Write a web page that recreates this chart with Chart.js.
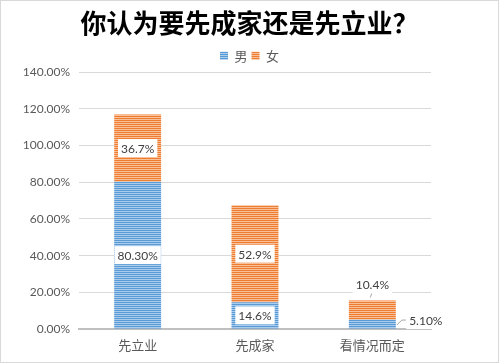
<!DOCTYPE html>
<html>
<head>
<meta charset="utf-8">
<script src="https://cdn.jsdelivr.net/npm/chart.js@4/dist/chart.umd.min.js"></script>
<style>
  html, body { margin: 0; padding: 0; background: #fff; }
  #box { width: 499px; height: 363px; box-sizing: border-box; border: 1px solid #d9d9d9; position: relative; }
</style>
</head>
<body>
<div id="box"><canvas id="barChart"></canvas></div>
<script>
var categories = ["先立业", "先成家", "看情况而定"];
var maleData = [80.3, 14.6, 5.1];
var femaleData = [36.7, 52.9, 10.4];
var maleLabels = ["80.30%", "14.6%", "5.10%"];
var femaleLabels = ["36.7%", "52.9%", "10.4%"];
var yTicks = [0, 20, 40, 60, 80, 100, 120, 140];

function stripes(dark, light) {
  var c = document.createElement('canvas');
  c.width = 4; c.height = 2;
  var g = c.getContext('2d');
  g.fillStyle = light; g.fillRect(0, 0, 4, 1);
  g.fillStyle = dark; g.fillRect(0, 1, 4, 1);
  return g.createPattern(c, 'repeat');
}

var ctx = document.getElementById('barChart').getContext('2d');
var blueFill = stripes('#5b9bd5', '#a9cbec');
var orangeFill = stripes('#ed7d31', '#f8bf98');

function drawBoxLabel(c, text, x, y) {
  c.font = '12px Lato, sans-serif';
  var w = c.measureText(text).width;
  c.fillStyle = '#fff';
  c.fillRect(x - w / 2 - 3, y - 9, w + 6, 18);
  c.fillStyle = '#404040';
  c.textAlign = 'center';
  c.textBaseline = 'middle';
  c.fillText(text, x, y + 1);
}

var labelPlugin = {
  id: 'boxLabels',
  afterDatasetsDraw: function(chart) {
    var c = chart.ctx;
    c.save();
    var m0 = chart.getDatasetMeta(0), m1 = chart.getDatasetMeta(1);
    for (var i = 0; i < categories.length; i++) {
      var b0 = m0.data[i], b1 = m1.data[i];
      if (i < 2) {
        drawBoxLabel(c, maleLabels[i], b0.x, (b0.y + b0.base) / 2);
        drawBoxLabel(c, femaleLabels[i], b1.x, (b1.y + b1.base) / 2);
      } else {
        // outside labels with leader lines
        c.strokeStyle = '#a6a6a6';
        c.lineWidth = 1;
        c.beginPath();
        c.moveTo(b1.x - 2, b1.y - 3);
        c.lineTo(b1.x, b1.y - 9);
        c.stroke();
        drawBoxLabel(c, femaleLabels[i], b1.x, b1.y - 16);
        var right = b0.x + b0.width / 2;
        c.strokeStyle = '#a6a6a6';
        c.beginPath();
        c.moveTo(right + 1, (b0.y + b0.base) / 2 + 1);
        c.lineTo(right + 6, (b0.y + b0.base) / 2 - 4);
        c.lineTo(right + 10, (b0.y + b0.base) / 2 - 4);
        c.stroke();
        drawBoxLabel(c, maleLabels[i], right + 30, (b0.y + b0.base) / 2 - 4);
      }
    }
    c.restore();
  }
};

new Chart(ctx, {
  type: 'bar',
  data: {
    labels: categories,
    datasets: [
      { label: '男', data: maleData, backgroundColor: blueFill, borderWidth: 0 },
      { label: '女', data: femaleData, backgroundColor: orangeFill, borderWidth: 0 }
    ]
  },
  options: {
    responsive: true,
    maintainAspectRatio: false,
    animation: false,
    categoryPercentage: 0.8,
    barPercentage: 0.5,
    layout: { padding: { left: 0, right: 0, top: 5, bottom: 0 } },
    plugins: {
      title: {
        display: true,
        text: '你认为要先成家还是先立业？',
        color: '#000',
        font: { family: '"Noto Sans CJK SC"', size: 26, weight: 'bold' },
        padding: { top: 2, bottom: 6 }
      },
      legend: {
        display: true,
        position: 'top',
        labels: {
          boxWidth: 8, boxHeight: 8, color: '#595959',
          font: { family: '"Noto Sans CJK SC"', size: 13 },
          padding: 4
        }
      },
      tooltip: { enabled: false }
    },
    scales: {
      x: {
        stacked: true,
        grid: { display: false, drawTicks: false },
        border: { display: true, color: '#bfbfbf', width: 2 },
        ticks: { color: '#595959', padding: 10, font: { family: '"Noto Sans CJK SC"', size: 13, lineHeight: 1 } }
      },
      y: {
        stacked: true,
        min: 0, max: 140,
        afterFit: function(scale) { scale.width = 78; },
        afterBuildTicks: function(scale) { scale.ticks = yTicks.map(function(v) { return { value: v }; }); },
        grid: { color: '#d9d9d9', drawTicks: false },
        border: { display: false },
        ticks: {
          color: '#595959', padding: 9,
          font: { family: 'Lato, sans-serif', size: 12 },
          callback: function(v) { return v.toFixed(2) + '%'; }
        }
      },
      // empty right-hand space so the title and legend stay centred on the full width
      yRight: {
        position: 'right',
        display: true,
        grid: { display: false, drawTicks: false },
        border: { display: false },
        ticks: { display: false },
        afterFit: function(scale) { scale.width = 67; }
      }
    }
  },
  plugins: [labelPlugin]
});
</script>
</body>
</html>
